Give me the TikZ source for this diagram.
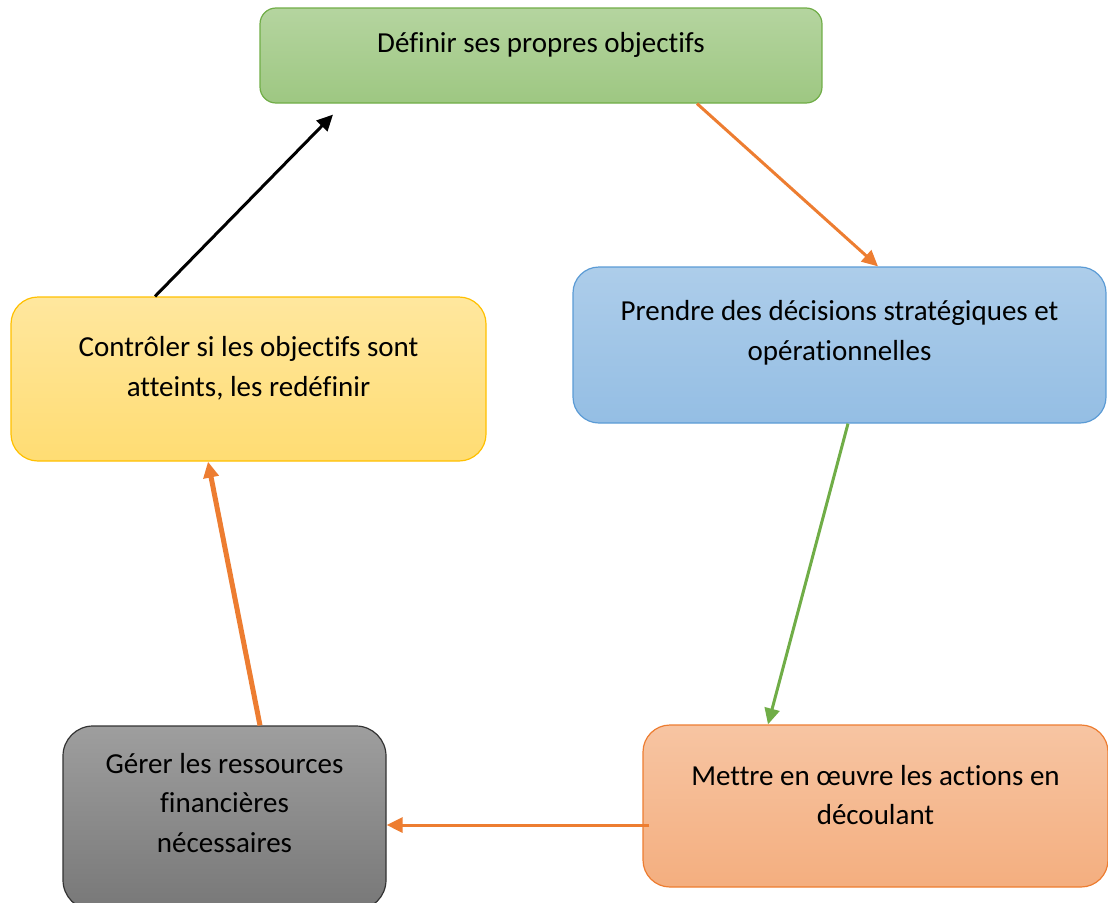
\documentclass[tikz,border=0pt]{standalone}
\usepackage{fontspec}
\setmainfont[Ligatures={NoCommon,NoRare}]{Carlito}
\usepackage{tikz}
\usetikzlibrary{arrows.meta}

\definecolor{accgreen}{HTML}{70AD47}
\definecolor{accblue}{HTML}{5B9BD5}
\definecolor{accorange}{HTML}{ED7D31}
\definecolor{accgold}{HTML}{FFC000}

\tikzset{
  box/.style={draw, rounded corners=#1, line width=1.2pt, inner sep=0pt},
  boxtext/.style={align=center, font=\fontsize{29}{39.5}\selectfont, text=black},
  link/.style={line width=3pt, -{Triangle[length=16pt,width=15pt]}}
}

\begin{document}
\begin{tikzpicture}[x=1pt, y=-1pt]
    % Page frame, same size as the reference
    \useasboundingbox (0,0) rectangle (1108,902);

    % The five boxes of the cycle
    \node[box=16pt, draw=accgreen, top color=accgreen!52, bottom color=accgreen!68, minimum width=562pt, minimum height=95pt] (define) at (541,55.5) {};
    \node[box=26pt, draw=accblue, top color=accblue!50, bottom color=accblue!65, minimum width=533pt, minimum height=156pt] (decide) at (839.5,345) {};
    \node[box=27pt, draw=accorange, top color=accorange!45, bottom color=accorange!62, minimum width=465pt, minimum height=162pt] (act) at (875.5,806) {};
    \node[box=30pt, draw=black!80, top color=black!38, bottom color=black!53, minimum width=323pt, minimum height=184pt] (manage) at (224.5,818) {};
    \node[box=27pt, draw=accgold, top color=accgold!38, bottom color=accgold!55, minimum width=475pt, minimum height=164pt] (control) at (248.5,379) {};

    % Texts, a little above the middle of each box
    \node[boxtext] (define text) at ([yshift=10.5pt]define.center) {Définir ses propres objectifs};
    \node[boxtext] (decide text) at ([yshift=12pt]decide.center) {Prendre des décisions stratégiques et\\opérationnelles};
    \node[boxtext] (act text) at ([yshift=11pt]act.center) {Mettre en œuvre les actions en\\découlant};
    \node[boxtext] (manage text) at ([yshift=15pt]manage.center) {Gérer les ressources\\financières\\nécessaires};
    \node[boxtext] (control text) at ([yshift=10.5pt]control.center) {Contrôler si les objectifs sont\\atteints, les redéfinir};

    % Arrows
    \draw[link, accorange] ([xshift=156pt]define.south) -- ([xshift=38.5pt]decide.north);
    \draw[link, accgreen] ([xshift=8.5pt]decide.south) -- ([xshift=-107.5pt]act.north);
    \draw[link, accorange] ([xshift=7pt,yshift=-19pt]act.west) -- ([yshift=-7pt]manage.east);
    \draw[link, accorange, line width=5pt] ([xshift=35.5pt]manage.north) -- ([xshift=-40.5pt]control.south);
    \draw[link, black] ([xshift=-93.5pt]control.north) -- ([xshift=-208pt,yshift=-11pt]define.south);
\end{tikzpicture}
\end{document}
